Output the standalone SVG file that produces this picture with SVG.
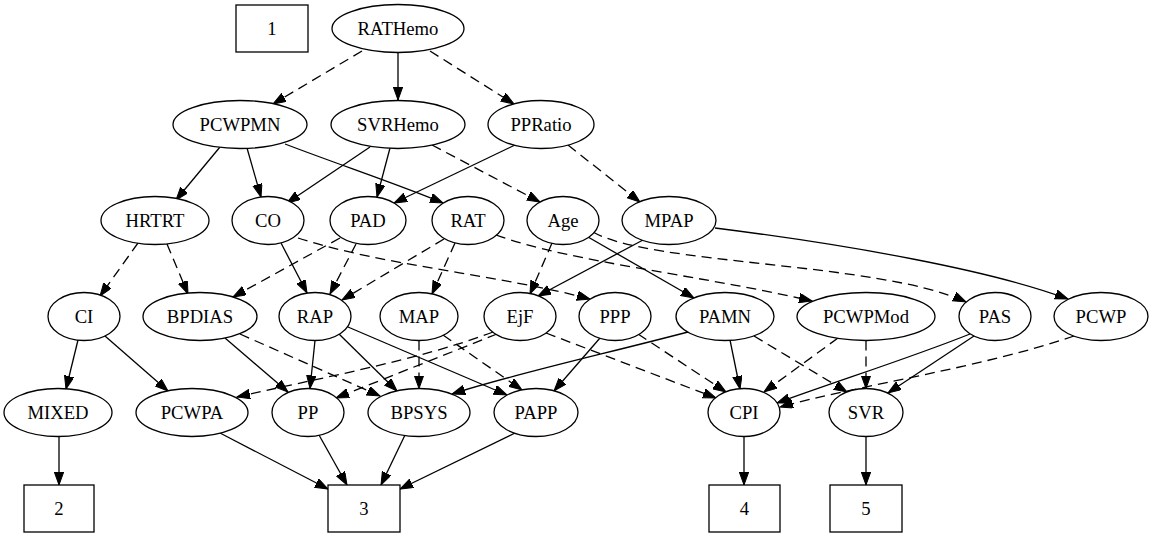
<svg xmlns="http://www.w3.org/2000/svg" width="1154" height="539" viewBox="0 0 1154 539">
<style>
.n ellipse,.n rect{fill:#fff;stroke:#000;stroke-width:1.3}
.n text{font-family:"Liberation Serif","Times New Roman",serif;font-size:18.67px;text-anchor:middle;fill:#000}
#edges path{fill:none;stroke:#000;stroke-width:1.3;marker-end:url(#ah)}
#edges path.d{stroke-dasharray:10,6}
</style>
<defs>
<marker id="ah" markerWidth="14" markerHeight="10" refX="13" refY="4.7" orient="auto" markerUnits="userSpaceOnUse">
<path d="M0,0 L13,4.7 L0,9.4 z" fill="#000" stroke="#000" stroke-width="1"/>
</marker>
</defs>
<rect width="1154" height="539" fill="#fff"/>
<g id="edges">
<path class="d" d="M362,51 L273,104"/>
<path d="M398,53 L398,100"/>
<path class="d" d="M430,51 L514,104"/>
<path d="M220,147 L176,200"/>
<path d="M247,148 L261,197"/>
<path d="M285,144 C340,165 400,185 443,203"/>
<path d="M370,147 L287,203"/>
<path d="M390,148 L377,197"/>
<path class="d" d="M432,145 L540,202"/>
<path d="M515,145 L394,203"/>
<path class="d" d="M568,145 L640,202"/>
<path class="d" d="M138,243 L100,296"/>
<path class="d" d="M167,244 L188,294"/>
<path d="M281,243 L307,293"/>
<path class="d" d="M298,238 C380,265 500,275 590,299"/>
<path class="d" d="M340,238 L233,297"/>
<path class="d" d="M356,244 L330,294"/>
<path class="d" d="M444,239 L342,300"/>
<path class="d" d="M455,243 L432,294"/>
<path class="d" d="M496,235 C570,262 700,275 812,301"/>
<path class="d" d="M552,243 L530,294"/>
<path d="M588,237 L694,298"/>
<path class="d" d="M593,232 C650,265 880,262 966,302"/>
<path d="M643,240 L538,296"/>
<path d="M715,228 C850,245 990,270 1068,299"/>
<path d="M78,340 L66,389"/>
<path d="M105,336 L168,391"/>
<path d="M225,338 L288,392"/>
<path class="d" d="M240,334 L380,396"/>
<path d="M315,340.5 L310,388.5"/>
<path d="M339,334 L397,391"/>
<path d="M348,327 L507,395"/>
<path class="d" d="M419,340.5 L419,388.5"/>
<path class="d" d="M443,335 L522,390"/>
<path class="d" d="M493,332 C420,360 310,380 237,397"/>
<path class="d" d="M497,334 L336,398"/>
<path class="d" d="M546,333 L716,398"/>
<path d="M600,338 L554,391"/>
<path class="d" d="M638,334 L726,392"/>
<path d="M688,332 C600,355 510,375 452,394"/>
<path d="M730,340 L740,389"/>
<path class="d" d="M754,336 L847,392"/>
<path class="d" d="M838,338 L764,392"/>
<path class="d" d="M866,340.5 L866,388.5"/>
<path d="M970,334 C910,358 840,380 777,403"/>
<path d="M974,336 L888,393"/>
<path class="d" d="M1074,336 C980,368 860,385 780,407"/>
<path d="M59,436.5 L59,485"/>
<path d="M220,433 L328,489"/>
<path d="M319,435 L347,485"/>
<path d="M405,435 L381,485"/>
<path d="M515,433 L400,489"/>
<path d="M744,436.5 L744,485"/>
<path d="M866,436.5 L866,485"/>
</g>
<g id="n1" class="n"><rect x="236" y="5" width="72" height="47"/><text x="272" y="34.5">1</text></g>
<g id="RATHemo" class="n"><ellipse cx="398" cy="28.5" rx="66" ry="24"/><text x="398" y="34.5">RATHemo</text></g>
<g id="PCWPMN" class="n"><ellipse cx="240" cy="124.5" rx="67" ry="24"/><text x="240" y="130.5">PCWPMN</text></g>
<g id="SVRHemo" class="n"><ellipse cx="398" cy="124.5" rx="67" ry="24"/><text x="398" y="130.5">SVRHemo</text></g>
<g id="PPRatio" class="n"><ellipse cx="541" cy="124.5" rx="53" ry="24"/><text x="541" y="130.5">PPRatio</text></g>
<g id="HRTRT" class="n"><ellipse cx="155" cy="220.5" rx="54" ry="24"/><text x="155" y="226.5">HRTRT</text></g>
<g id="CO" class="n"><ellipse cx="268" cy="220.5" rx="36" ry="24"/><text x="268" y="226.5">CO</text></g>
<g id="PAD" class="n"><ellipse cx="368" cy="220.5" rx="38" ry="24"/><text x="368" y="226.5">PAD</text></g>
<g id="RAT" class="n"><ellipse cx="468" cy="220.5" rx="36" ry="24"/><text x="468" y="226.5">RAT</text></g>
<g id="Age" class="n"><ellipse cx="563" cy="220.5" rx="36" ry="24"/><text x="563" y="226.5">Age</text></g>
<g id="MPAP" class="n"><ellipse cx="669" cy="220.5" rx="47" ry="24"/><text x="669" y="226.5">MPAP</text></g>
<g id="CI" class="n"><ellipse cx="84" cy="316.5" rx="36" ry="24"/><text x="84" y="322.5">CI</text></g>
<g id="BPDIAS" class="n"><ellipse cx="200" cy="316.5" rx="57" ry="24"/><text x="200" y="322.5">BPDIAS</text></g>
<g id="RAP" class="n"><ellipse cx="315" cy="316.5" rx="36" ry="24"/><text x="315" y="322.5">RAP</text></g>
<g id="MAP" class="n"><ellipse cx="419" cy="316.5" rx="39" ry="24"/><text x="419" y="322.5">MAP</text></g>
<g id="EjF" class="n"><ellipse cx="520" cy="316.5" rx="36" ry="24"/><text x="520" y="322.5">EjF</text></g>
<g id="PPP" class="n"><ellipse cx="615" cy="316.5" rx="36" ry="24"/><text x="615" y="322.5">PPP</text></g>
<g id="PAMN" class="n"><ellipse cx="725" cy="316.5" rx="49" ry="24"/><text x="725" y="322.5">PAMN</text></g>
<g id="PCWPMod" class="n"><ellipse cx="866" cy="316.5" rx="69" ry="24"/><text x="866" y="322.5">PCWPMod</text></g>
<g id="PAS" class="n"><ellipse cx="995" cy="316.5" rx="36" ry="24"/><text x="995" y="322.5">PAS</text></g>
<g id="PCWP" class="n"><ellipse cx="1101" cy="316.5" rx="47" ry="24"/><text x="1101" y="322.5">PCWP</text></g>
<g id="MIXED" class="n"><ellipse cx="58" cy="412.5" rx="54" ry="24"/><text x="58" y="418.5">MIXED</text></g>
<g id="PCWPA" class="n"><ellipse cx="192" cy="412.5" rx="56" ry="24"/><text x="192" y="418.5">PCWPA</text></g>
<g id="PP" class="n"><ellipse cx="308" cy="412.5" rx="36" ry="24"/><text x="308" y="418.5">PP</text></g>
<g id="BPSYS" class="n"><ellipse cx="419" cy="412.5" rx="51" ry="24"/><text x="419" y="418.5">BPSYS</text></g>
<g id="PAPP" class="n"><ellipse cx="536" cy="412.5" rx="42" ry="24"/><text x="536" y="418.5">PAPP</text></g>
<g id="CPI" class="n"><ellipse cx="744" cy="412.5" rx="36" ry="24"/><text x="744" y="418.5">CPI</text></g>
<g id="SVR" class="n"><ellipse cx="866" cy="412.5" rx="37" ry="24"/><text x="866" y="418.5">SVR</text></g>
<g id="n2" class="n"><rect x="24" y="485" width="70" height="47"/><text x="59" y="514.5">2</text></g>
<g id="n3" class="n"><rect x="328" y="485" width="72" height="47"/><text x="364" y="514.5">3</text></g>
<g id="n4" class="n"><rect x="709" y="485" width="71" height="47"/><text x="744.5" y="514.5">4</text></g>
<g id="n5" class="n"><rect x="830" y="485" width="72" height="47"/><text x="866" y="514.5">5</text></g>
</svg>
